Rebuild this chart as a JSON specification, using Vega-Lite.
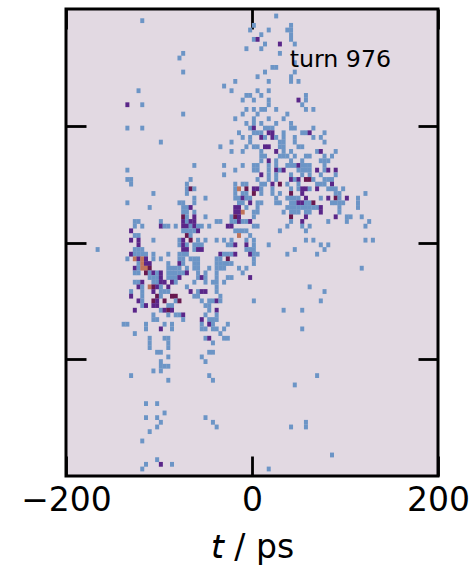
{"$schema":"https://vega.github.io/schema/vega-lite/v6.json","width":372,"height":467,"autosize":{"type":"none"},"padding":{"left":66,"top":9,"right":36,"bottom":89},"background":"white","config":{"font":"DejaVu Sans","view":{"fill":"#e2d9e2","stroke":"black","strokeWidth":3}},"resolve":{"axis":{"x":"independent","y":"independent"}},"layer":[{"data":{"values":[
{"t":26,"y":98.5,"n":1},
{"t":-118,"y":97.5,"n":1},
{"t":2,"y":96.5,"n":1},{"t":42,"y":96.5,"n":1},
{"t":-2,"y":95.5,"n":1},{"t":18,"y":95.5,"n":1},{"t":38,"y":95.5,"n":1},{"t":42,"y":95.5,"n":1},
{"t":10,"y":94.5,"n":1},{"t":42,"y":94.5,"n":1},
{"t":2,"y":93.5,"n":1},{"t":6,"y":93.5,"n":2},{"t":42,"y":93.5,"n":1},
{"t":14,"y":92.5,"n":1},{"t":30,"y":92.5,"n":2},{"t":46,"y":92.5,"n":1},
{"t":-6,"y":91.5,"n":1},{"t":10,"y":91.5,"n":1},
{"t":-74,"y":90.5,"n":1},{"t":30,"y":90.5,"n":1},
{"t":-78,"y":89.5,"n":1},
{"t":46,"y":88.5,"n":1},
{"t":22,"y":87.5,"n":1},{"t":26,"y":87.5,"n":1},
{"t":-74,"y":86.5,"n":1},{"t":14,"y":86.5,"n":1},{"t":46,"y":86.5,"n":1},
{"t":6,"y":85.5,"n":1},{"t":42,"y":85.5,"n":1},
{"t":-18,"y":84.5,"n":1},{"t":18,"y":84.5,"n":1},{"t":42,"y":84.5,"n":1},{"t":50,"y":84.5,"n":1},
{"t":-30,"y":83.5,"n":1},
{"t":-122,"y":82.5,"n":1},{"t":-22,"y":82.5,"n":1},{"t":6,"y":82.5,"n":1},{"t":18,"y":82.5,"n":1},
{"t":-6,"y":81.5,"n":1},{"t":-2,"y":81.5,"n":1},{"t":10,"y":81.5,"n":1},{"t":58,"y":81.5,"n":1},
{"t":-10,"y":80.5,"n":1},{"t":2,"y":80.5,"n":1},{"t":18,"y":80.5,"n":1},{"t":50,"y":80.5,"n":2},{"t":58,"y":80.5,"n":1},
{"t":-134,"y":79.5,"n":2},{"t":-118,"y":79.5,"n":1},{"t":18,"y":79.5,"n":1},{"t":54,"y":79.5,"n":1},
{"t":-6,"y":78.5,"n":1},{"t":2,"y":78.5,"n":1},{"t":10,"y":78.5,"n":1},{"t":14,"y":78.5,"n":1},{"t":26,"y":78.5,"n":1},{"t":58,"y":78.5,"n":1},{"t":66,"y":78.5,"n":1},
{"t":-74,"y":77.5,"n":1},{"t":-10,"y":77.5,"n":1},{"t":6,"y":77.5,"n":1},{"t":38,"y":77.5,"n":1},
{"t":-18,"y":76.5,"n":1},{"t":2,"y":76.5,"n":1},{"t":18,"y":76.5,"n":1},{"t":34,"y":76.5,"n":1},
{"t":-6,"y":75.5,"n":1},{"t":2,"y":75.5,"n":1},{"t":10,"y":75.5,"n":1},{"t":26,"y":75.5,"n":1},{"t":42,"y":75.5,"n":1},
{"t":-134,"y":74.5,"n":1},{"t":-118,"y":74.5,"n":1},{"t":-2,"y":74.5,"n":1},{"t":2,"y":74.5,"n":2},{"t":14,"y":74.5,"n":1},{"t":18,"y":74.5,"n":1},{"t":22,"y":74.5,"n":1},{"t":42,"y":74.5,"n":1},{"t":46,"y":74.5,"n":1},{"t":66,"y":74.5,"n":1},
{"t":-14,"y":73.5,"n":1},{"t":2,"y":73.5,"n":1},{"t":6,"y":73.5,"n":1},{"t":10,"y":73.5,"n":1},{"t":18,"y":73.5,"n":2},{"t":22,"y":73.5,"n":2},{"t":34,"y":73.5,"n":1},{"t":54,"y":73.5,"n":1},{"t":58,"y":73.5,"n":1},{"t":62,"y":73.5,"n":2},{"t":78,"y":73.5,"n":1},
{"t":-10,"y":72.5,"n":1},{"t":-2,"y":72.5,"n":1},{"t":10,"y":72.5,"n":2},{"t":14,"y":72.5,"n":1},{"t":22,"y":72.5,"n":2},{"t":26,"y":72.5,"n":1},{"t":34,"y":72.5,"n":1},{"t":46,"y":72.5,"n":1},{"t":66,"y":72.5,"n":1},{"t":74,"y":72.5,"n":1},
{"t":-98,"y":71.5,"n":1},{"t":-22,"y":71.5,"n":1},{"t":-2,"y":71.5,"n":1},{"t":30,"y":71.5,"n":1},{"t":34,"y":71.5,"n":1},{"t":46,"y":71.5,"n":1},{"t":78,"y":71.5,"n":1},
{"t":-34,"y":70.5,"n":1},{"t":-6,"y":70.5,"n":1},{"t":2,"y":70.5,"n":1},{"t":6,"y":70.5,"n":1},{"t":14,"y":70.5,"n":2},{"t":18,"y":70.5,"n":2},{"t":30,"y":70.5,"n":1},{"t":34,"y":70.5,"n":1},{"t":50,"y":70.5,"n":1},{"t":54,"y":70.5,"n":1},
{"t":-22,"y":69.5,"n":1},{"t":-10,"y":69.5,"n":1},{"t":10,"y":69.5,"n":1},{"t":26,"y":69.5,"n":2},{"t":34,"y":69.5,"n":1},{"t":42,"y":69.5,"n":1},{"t":70,"y":69.5,"n":1},{"t":74,"y":69.5,"n":2},{"t":90,"y":69.5,"n":1},
{"t":10,"y":68.5,"n":1},{"t":14,"y":68.5,"n":1},{"t":30,"y":68.5,"n":1},{"t":34,"y":68.5,"n":1},{"t":38,"y":68.5,"n":1},{"t":46,"y":68.5,"n":1},{"t":58,"y":68.5,"n":1},{"t":62,"y":68.5,"n":1},{"t":78,"y":68.5,"n":1},{"t":86,"y":68.5,"n":1},
{"t":10,"y":67.5,"n":1},{"t":18,"y":67.5,"n":2},{"t":26,"y":67.5,"n":1},{"t":42,"y":67.5,"n":1},{"t":54,"y":67.5,"n":1},{"t":74,"y":67.5,"n":1},{"t":78,"y":67.5,"n":1},{"t":82,"y":67.5,"n":1},
{"t":-62,"y":66.5,"n":1},{"t":-30,"y":66.5,"n":1},{"t":-10,"y":66.5,"n":1},{"t":2,"y":66.5,"n":1},{"t":6,"y":66.5,"n":1},{"t":18,"y":66.5,"n":1},{"t":26,"y":66.5,"n":1},{"t":38,"y":66.5,"n":1},{"t":42,"y":66.5,"n":1},{"t":46,"y":66.5,"n":1},{"t":50,"y":66.5,"n":2},{"t":54,"y":66.5,"n":1},{"t":58,"y":66.5,"n":1},{"t":62,"y":66.5,"n":1},{"t":78,"y":66.5,"n":1},
{"t":-134,"y":65.5,"n":1},{"t":-18,"y":65.5,"n":1},{"t":2,"y":65.5,"n":1},{"t":6,"y":65.5,"n":1},{"t":18,"y":65.5,"n":1},{"t":26,"y":65.5,"n":2},{"t":30,"y":65.5,"n":1},{"t":34,"y":65.5,"n":2},{"t":50,"y":65.5,"n":1},{"t":54,"y":65.5,"n":1},{"t":58,"y":65.5,"n":1},{"t":62,"y":65.5,"n":1},{"t":70,"y":65.5,"n":2},{"t":78,"y":65.5,"n":1},{"t":82,"y":65.5,"n":2},{"t":90,"y":65.5,"n":2},
{"t":-30,"y":64.5,"n":1},{"t":10,"y":64.5,"n":2},{"t":18,"y":64.5,"n":1},{"t":26,"y":64.5,"n":1},{"t":42,"y":64.5,"n":1},{"t":54,"y":64.5,"n":1},{"t":62,"y":64.5,"n":1},{"t":74,"y":64.5,"n":1},{"t":90,"y":64.5,"n":1},
{"t":-134,"y":63.5,"n":1},{"t":-130,"y":63.5,"n":1},{"t":-66,"y":63.5,"n":1},{"t":6,"y":63.5,"n":1},{"t":18,"y":63.5,"n":1},{"t":26,"y":63.5,"n":1},{"t":42,"y":63.5,"n":2},{"t":46,"y":63.5,"n":1},{"t":50,"y":63.5,"n":2},{"t":58,"y":63.5,"n":3},{"t":62,"y":63.5,"n":3},{"t":66,"y":63.5,"n":1},{"t":78,"y":63.5,"n":1},{"t":82,"y":63.5,"n":1},{"t":86,"y":63.5,"n":1},
{"t":-130,"y":62.5,"n":1},{"t":-70,"y":62.5,"n":1},{"t":-18,"y":62.5,"n":1},{"t":-10,"y":62.5,"n":1},{"t":-6,"y":62.5,"n":1},{"t":10,"y":62.5,"n":1},{"t":14,"y":62.5,"n":1},{"t":22,"y":62.5,"n":2},{"t":30,"y":62.5,"n":3},{"t":38,"y":62.5,"n":1},{"t":50,"y":62.5,"n":1},{"t":70,"y":62.5,"n":1},{"t":74,"y":62.5,"n":1},{"t":78,"y":62.5,"n":1},{"t":86,"y":62.5,"n":2},
{"t":-70,"y":61.5,"n":1},{"t":-66,"y":61.5,"n":3},{"t":-62,"y":61.5,"n":1},{"t":-18,"y":61.5,"n":1},{"t":-14,"y":61.5,"n":4},{"t":-6,"y":61.5,"n":3},{"t":2,"y":61.5,"n":2},{"t":6,"y":61.5,"n":2},{"t":10,"y":61.5,"n":1},{"t":22,"y":61.5,"n":1},{"t":42,"y":61.5,"n":1},{"t":50,"y":61.5,"n":1},{"t":54,"y":61.5,"n":2},{"t":58,"y":61.5,"n":2},{"t":62,"y":61.5,"n":1},{"t":70,"y":61.5,"n":2},{"t":82,"y":61.5,"n":1},{"t":86,"y":61.5,"n":1},{"t":90,"y":61.5,"n":1},{"t":98,"y":61.5,"n":1},
{"t":-106,"y":60.5,"n":1},{"t":-70,"y":60.5,"n":1},{"t":-18,"y":60.5,"n":1},{"t":-10,"y":60.5,"n":1},{"t":-6,"y":60.5,"n":1},{"t":2,"y":60.5,"n":3},{"t":10,"y":60.5,"n":1},{"t":22,"y":60.5,"n":1},{"t":30,"y":60.5,"n":1},{"t":42,"y":60.5,"n":3},{"t":54,"y":60.5,"n":2},{"t":90,"y":60.5,"n":1},{"t":94,"y":60.5,"n":1},{"t":122,"y":60.5,"n":1},
{"t":-62,"y":59.5,"n":1},{"t":-50,"y":59.5,"n":1},{"t":-18,"y":59.5,"n":1},{"t":-14,"y":59.5,"n":1},{"t":-10,"y":59.5,"n":2},{"t":-6,"y":59.5,"n":1},{"t":-2,"y":59.5,"n":1},{"t":26,"y":59.5,"n":1},{"t":38,"y":59.5,"n":1},{"t":42,"y":59.5,"n":1},{"t":46,"y":59.5,"n":1},{"t":50,"y":59.5,"n":1},{"t":58,"y":59.5,"n":2},{"t":74,"y":59.5,"n":1},{"t":82,"y":59.5,"n":2},{"t":90,"y":59.5,"n":3},{"t":94,"y":59.5,"n":1},{"t":102,"y":59.5,"n":2},{"t":114,"y":59.5,"n":1},
{"t":-134,"y":58.5,"n":1},{"t":-78,"y":58.5,"n":1},{"t":-74,"y":58.5,"n":1},{"t":-62,"y":58.5,"n":1},{"t":-14,"y":58.5,"n":1},{"t":-10,"y":58.5,"n":1},{"t":-2,"y":58.5,"n":2},{"t":6,"y":58.5,"n":1},{"t":10,"y":58.5,"n":1},{"t":26,"y":58.5,"n":1},{"t":30,"y":58.5,"n":1},{"t":42,"y":58.5,"n":1},{"t":46,"y":58.5,"n":1},{"t":50,"y":58.5,"n":2},{"t":54,"y":58.5,"n":2},{"t":58,"y":58.5,"n":1},{"t":62,"y":58.5,"n":1},{"t":66,"y":58.5,"n":3},{"t":86,"y":58.5,"n":1},{"t":90,"y":58.5,"n":1},{"t":94,"y":58.5,"n":1},{"t":98,"y":58.5,"n":1},{"t":114,"y":58.5,"n":1},
{"t":-110,"y":57.5,"n":1},{"t":-74,"y":57.5,"n":1},{"t":-70,"y":57.5,"n":1},{"t":-66,"y":57.5,"n":2},{"t":-18,"y":57.5,"n":2},{"t":-14,"y":57.5,"n":2},{"t":-6,"y":57.5,"n":1},{"t":6,"y":57.5,"n":1},{"t":38,"y":57.5,"n":1},{"t":42,"y":57.5,"n":1},{"t":46,"y":57.5,"n":1},{"t":50,"y":57.5,"n":1},{"t":54,"y":57.5,"n":1},{"t":58,"y":57.5,"n":1},{"t":62,"y":57.5,"n":1},{"t":66,"y":57.5,"n":1},{"t":70,"y":57.5,"n":1},{"t":74,"y":57.5,"n":2},{"t":94,"y":57.5,"n":1},{"t":114,"y":57.5,"n":1},
{"t":-74,"y":56.5,"n":1},{"t":-70,"y":56.5,"n":1},{"t":-62,"y":56.5,"n":1},{"t":-18,"y":56.5,"n":2},{"t":-14,"y":56.5,"n":2},{"t":-10,"y":56.5,"n":4},{"t":2,"y":56.5,"n":1},{"t":6,"y":56.5,"n":1},{"t":34,"y":56.5,"n":1},{"t":42,"y":56.5,"n":1},{"t":46,"y":56.5,"n":1},{"t":50,"y":56.5,"n":1},{"t":58,"y":56.5,"n":1},{"t":62,"y":56.5,"n":1},{"t":74,"y":56.5,"n":2},{"t":94,"y":56.5,"n":1},
{"t":-74,"y":55.5,"n":3},{"t":-70,"y":55.5,"n":1},{"t":-62,"y":55.5,"n":2},{"t":-50,"y":55.5,"n":1},{"t":-22,"y":55.5,"n":1},{"t":-18,"y":55.5,"n":3},{"t":-14,"y":55.5,"n":2},{"t":2,"y":55.5,"n":1},{"t":42,"y":55.5,"n":3},{"t":58,"y":55.5,"n":2},{"t":90,"y":55.5,"n":2},{"t":102,"y":55.5,"n":1},{"t":106,"y":55.5,"n":1},{"t":118,"y":55.5,"n":1},
{"t":-126,"y":54.5,"n":1},{"t":-122,"y":54.5,"n":1},{"t":-98,"y":54.5,"n":1},{"t":-74,"y":54.5,"n":2},{"t":-70,"y":54.5,"n":1},{"t":-66,"y":54.5,"n":2},{"t":-62,"y":54.5,"n":2},{"t":-38,"y":54.5,"n":1},{"t":-34,"y":54.5,"n":1},{"t":-22,"y":54.5,"n":1},{"t":-18,"y":54.5,"n":1},{"t":-14,"y":54.5,"n":2},{"t":-10,"y":54.5,"n":1},{"t":-6,"y":54.5,"n":1},{"t":-2,"y":54.5,"n":2},{"t":42,"y":54.5,"n":1},{"t":54,"y":54.5,"n":2},{"t":82,"y":54.5,"n":1},{"t":102,"y":54.5,"n":1},{"t":126,"y":54.5,"n":1},
{"t":-126,"y":53.5,"n":1},{"t":-118,"y":53.5,"n":1},{"t":-98,"y":53.5,"n":2},{"t":-94,"y":53.5,"n":1},{"t":-90,"y":53.5,"n":1},{"t":-82,"y":53.5,"n":1},{"t":-74,"y":53.5,"n":2},{"t":-70,"y":53.5,"n":2},{"t":-66,"y":53.5,"n":1},{"t":-62,"y":53.5,"n":2},{"t":-58,"y":53.5,"n":1},{"t":-54,"y":53.5,"n":1},{"t":-46,"y":53.5,"n":1},{"t":-26,"y":53.5,"n":2},{"t":-22,"y":53.5,"n":2},{"t":2,"y":53.5,"n":1},{"t":6,"y":53.5,"n":1},{"t":38,"y":53.5,"n":1},{"t":54,"y":53.5,"n":1},{"t":62,"y":53.5,"n":1},{"t":122,"y":53.5,"n":1},
{"t":-130,"y":52.5,"n":2},{"t":-74,"y":52.5,"n":1},{"t":-70,"y":52.5,"n":1},{"t":-66,"y":52.5,"n":1},{"t":-62,"y":52.5,"n":1},{"t":-58,"y":52.5,"n":2},{"t":-18,"y":52.5,"n":1},{"t":-14,"y":52.5,"n":1},{"t":-10,"y":52.5,"n":1},{"t":-6,"y":52.5,"n":1},{"t":30,"y":52.5,"n":1},{"t":58,"y":52.5,"n":1},
{"t":-126,"y":51.5,"n":1},{"t":-122,"y":51.5,"n":1},{"t":-70,"y":51.5,"n":3},{"t":-66,"y":51.5,"n":1},{"t":-14,"y":51.5,"n":4},{"t":-2,"y":51.5,"n":1},
{"t":-130,"y":50.5,"n":2},{"t":-122,"y":50.5,"n":2},{"t":-106,"y":50.5,"n":1},{"t":-78,"y":50.5,"n":1},{"t":-74,"y":50.5,"n":2},{"t":-66,"y":50.5,"n":3},{"t":-58,"y":50.5,"n":1},{"t":-50,"y":50.5,"n":1},{"t":-38,"y":50.5,"n":1},{"t":-30,"y":50.5,"n":1},{"t":-22,"y":50.5,"n":1},{"t":-6,"y":50.5,"n":1},{"t":2,"y":50.5,"n":1},{"t":58,"y":50.5,"n":1},{"t":66,"y":50.5,"n":1},{"t":122,"y":50.5,"n":1},{"t":130,"y":50.5,"n":1},
{"t":-122,"y":49.5,"n":2},{"t":-78,"y":49.5,"n":1},{"t":-74,"y":49.5,"n":2},{"t":-70,"y":49.5,"n":1},{"t":-62,"y":49.5,"n":1},{"t":-58,"y":49.5,"n":1},{"t":-54,"y":49.5,"n":1},{"t":-26,"y":49.5,"n":1},{"t":-22,"y":49.5,"n":1},{"t":-18,"y":49.5,"n":2},{"t":-6,"y":49.5,"n":2},{"t":2,"y":49.5,"n":1},{"t":18,"y":49.5,"n":1},{"t":74,"y":49.5,"n":1},{"t":82,"y":49.5,"n":1},
{"t":-166,"y":48.5,"n":1},{"t":-126,"y":48.5,"n":1},{"t":-122,"y":48.5,"n":1},{"t":-118,"y":48.5,"n":1},{"t":-74,"y":48.5,"n":2},{"t":-70,"y":48.5,"n":2},{"t":-62,"y":48.5,"n":1},{"t":-58,"y":48.5,"n":2},{"t":-54,"y":48.5,"n":2},{"t":-6,"y":48.5,"n":1},{"t":-2,"y":48.5,"n":1},{"t":2,"y":48.5,"n":1},{"t":46,"y":48.5,"n":1},{"t":78,"y":48.5,"n":1},
{"t":-130,"y":47.5,"n":2},{"t":-126,"y":47.5,"n":1},{"t":-122,"y":47.5,"n":1},{"t":-118,"y":47.5,"n":1},{"t":-114,"y":47.5,"n":1},{"t":-106,"y":47.5,"n":1},{"t":-90,"y":47.5,"n":1},{"t":-78,"y":47.5,"n":1},{"t":-74,"y":47.5,"n":1},{"t":-70,"y":47.5,"n":1},{"t":-34,"y":47.5,"n":2},{"t":-30,"y":47.5,"n":1},{"t":-26,"y":47.5,"n":1},{"t":-22,"y":47.5,"n":1},{"t":-18,"y":47.5,"n":2},{"t":-2,"y":47.5,"n":2},{"t":2,"y":47.5,"n":1},{"t":6,"y":47.5,"n":1},{"t":38,"y":47.5,"n":1},{"t":70,"y":47.5,"n":1},
{"t":-134,"y":46.5,"n":1},{"t":-126,"y":46.5,"n":4},{"t":-122,"y":46.5,"n":2},{"t":-118,"y":46.5,"n":4},{"t":-114,"y":46.5,"n":2},{"t":-106,"y":46.5,"n":1},{"t":-98,"y":46.5,"n":1},{"t":-78,"y":46.5,"n":1},{"t":-74,"y":46.5,"n":1},{"t":-66,"y":46.5,"n":1},{"t":-62,"y":46.5,"n":1},{"t":-58,"y":46.5,"n":1},{"t":-38,"y":46.5,"n":1},{"t":-34,"y":46.5,"n":1},{"t":-26,"y":46.5,"n":3},{"t":2,"y":46.5,"n":1},
{"t":-122,"y":45.5,"n":1},{"t":-118,"y":45.5,"n":4},{"t":-114,"y":45.5,"n":2},{"t":-110,"y":45.5,"n":2},{"t":-90,"y":45.5,"n":1},{"t":-78,"y":45.5,"n":2},{"t":-74,"y":45.5,"n":1},{"t":-62,"y":45.5,"n":1},{"t":-58,"y":45.5,"n":1},{"t":-38,"y":45.5,"n":1},{"t":-34,"y":45.5,"n":1},{"t":-30,"y":45.5,"n":1},{"t":-26,"y":45.5,"n":1},{"t":-22,"y":45.5,"n":1},{"t":2,"y":45.5,"n":1},
{"t":-126,"y":44.5,"n":2},{"t":-122,"y":44.5,"n":1},{"t":-118,"y":44.5,"n":4},{"t":-114,"y":44.5,"n":4},{"t":-110,"y":44.5,"n":3},{"t":-90,"y":44.5,"n":1},{"t":-86,"y":44.5,"n":1},{"t":-82,"y":44.5,"n":1},{"t":-78,"y":44.5,"n":1},{"t":-70,"y":44.5,"n":1},{"t":-62,"y":44.5,"n":1},{"t":-58,"y":44.5,"n":1},{"t":-46,"y":44.5,"n":1},{"t":-38,"y":44.5,"n":1},{"t":-34,"y":44.5,"n":1},{"t":-30,"y":44.5,"n":1},{"t":-14,"y":44.5,"n":1},{"t":-6,"y":44.5,"n":1},{"t":118,"y":44.5,"n":1},
{"t":-126,"y":43.5,"n":1},{"t":-122,"y":43.5,"n":1},{"t":-114,"y":43.5,"n":3},{"t":-110,"y":43.5,"n":1},{"t":-106,"y":43.5,"n":2},{"t":-102,"y":43.5,"n":1},{"t":-98,"y":43.5,"n":2},{"t":-90,"y":43.5,"n":1},{"t":-86,"y":43.5,"n":1},{"t":-82,"y":43.5,"n":1},{"t":-78,"y":43.5,"n":1},{"t":-74,"y":43.5,"n":1},{"t":-70,"y":43.5,"n":2},{"t":-58,"y":43.5,"n":1},{"t":-50,"y":43.5,"n":1},{"t":-38,"y":43.5,"n":1},{"t":-10,"y":43.5,"n":1},
{"t":-110,"y":42.5,"n":1},{"t":-106,"y":42.5,"n":1},{"t":-102,"y":42.5,"n":1},{"t":-98,"y":42.5,"n":2},{"t":-90,"y":42.5,"n":1},{"t":-86,"y":42.5,"n":1},{"t":-82,"y":42.5,"n":1},{"t":-78,"y":42.5,"n":2},{"t":-58,"y":42.5,"n":1},{"t":-54,"y":42.5,"n":2},{"t":-50,"y":42.5,"n":1},{"t":-38,"y":42.5,"n":1},{"t":-26,"y":42.5,"n":1},{"t":-22,"y":42.5,"n":1},{"t":-2,"y":42.5,"n":2},
{"t":-126,"y":41.5,"n":1},{"t":-122,"y":41.5,"n":1},{"t":-118,"y":41.5,"n":2},{"t":-106,"y":41.5,"n":1},{"t":-102,"y":41.5,"n":1},{"t":-98,"y":41.5,"n":2},{"t":-94,"y":41.5,"n":2},{"t":-86,"y":41.5,"n":2},{"t":-82,"y":41.5,"n":1},{"t":-62,"y":41.5,"n":1},{"t":-50,"y":41.5,"n":1},{"t":-42,"y":41.5,"n":1},{"t":-38,"y":41.5,"n":1},{"t":-30,"y":41.5,"n":1},
{"t":-122,"y":40.5,"n":2},{"t":-118,"y":40.5,"n":1},{"t":-110,"y":40.5,"n":4},{"t":-106,"y":40.5,"n":3},{"t":-102,"y":40.5,"n":2},{"t":-98,"y":40.5,"n":1},{"t":-90,"y":40.5,"n":2},{"t":-70,"y":40.5,"n":1},{"t":-38,"y":40.5,"n":1},{"t":62,"y":40.5,"n":1},
{"t":-130,"y":39.5,"n":1},{"t":-118,"y":39.5,"n":1},{"t":-106,"y":39.5,"n":2},{"t":-98,"y":39.5,"n":1},{"t":-94,"y":39.5,"n":1},{"t":-90,"y":39.5,"n":1},{"t":-66,"y":39.5,"n":2},{"t":-58,"y":39.5,"n":1},{"t":-54,"y":39.5,"n":2},{"t":-50,"y":39.5,"n":2},{"t":-38,"y":39.5,"n":1},{"t":78,"y":39.5,"n":1},
{"t":-130,"y":38.5,"n":2},{"t":-118,"y":38.5,"n":1},{"t":-102,"y":38.5,"n":3},{"t":-98,"y":38.5,"n":1},{"t":-86,"y":38.5,"n":3},{"t":-82,"y":38.5,"n":3},{"t":-62,"y":38.5,"n":1},{"t":-58,"y":38.5,"n":1},{"t":-34,"y":38.5,"n":1},
{"t":-122,"y":37.5,"n":2},{"t":-118,"y":37.5,"n":1},{"t":-106,"y":37.5,"n":3},{"t":-102,"y":37.5,"n":2},{"t":-94,"y":37.5,"n":3},{"t":-82,"y":37.5,"n":1},{"t":-78,"y":37.5,"n":3},{"t":-54,"y":37.5,"n":1},{"t":-46,"y":37.5,"n":1},{"t":-42,"y":37.5,"n":1},{"t":-38,"y":37.5,"n":2},{"t":-34,"y":37.5,"n":1},{"t":2,"y":37.5,"n":1},{"t":74,"y":37.5,"n":1},
{"t":-118,"y":36.5,"n":1},{"t":-114,"y":36.5,"n":2},{"t":-106,"y":36.5,"n":2},{"t":-102,"y":36.5,"n":2},{"t":-90,"y":36.5,"n":1},{"t":-86,"y":36.5,"n":1},{"t":-50,"y":36.5,"n":1},{"t":-46,"y":36.5,"n":1},
{"t":-126,"y":35.5,"n":2},{"t":-98,"y":35.5,"n":1},{"t":-94,"y":35.5,"n":2},{"t":-90,"y":35.5,"n":3},{"t":-86,"y":35.5,"n":2},{"t":-46,"y":35.5,"n":1},{"t":-38,"y":35.5,"n":2},{"t":34,"y":35.5,"n":1},{"t":54,"y":35.5,"n":1},
{"t":-106,"y":34.5,"n":1},{"t":-90,"y":34.5,"n":1},{"t":-82,"y":34.5,"n":1},{"t":-78,"y":34.5,"n":1},{"t":-74,"y":34.5,"n":2},{"t":-50,"y":34.5,"n":1},{"t":-38,"y":34.5,"n":1},
{"t":-106,"y":33.5,"n":1},{"t":-102,"y":33.5,"n":1},{"t":-74,"y":33.5,"n":1},{"t":-54,"y":33.5,"n":2},{"t":-46,"y":33.5,"n":1},{"t":-42,"y":33.5,"n":1},{"t":-38,"y":33.5,"n":1},
{"t":-138,"y":32.5,"n":1},{"t":-134,"y":32.5,"n":1},{"t":-114,"y":32.5,"n":1},{"t":-94,"y":32.5,"n":1},{"t":-86,"y":32.5,"n":1},{"t":-54,"y":32.5,"n":1},{"t":-46,"y":32.5,"n":2},{"t":-42,"y":32.5,"n":1},{"t":-26,"y":32.5,"n":1},
{"t":-114,"y":31.5,"n":1},{"t":-98,"y":31.5,"n":2},{"t":-86,"y":31.5,"n":1},{"t":-54,"y":31.5,"n":1},{"t":-50,"y":31.5,"n":1},{"t":-42,"y":31.5,"n":1},{"t":-38,"y":31.5,"n":1},{"t":-30,"y":31.5,"n":1},{"t":54,"y":31.5,"n":1},
{"t":-126,"y":30.5,"n":1},{"t":-34,"y":30.5,"n":1},
{"t":-110,"y":29.5,"n":1},{"t":-94,"y":29.5,"n":1},{"t":-90,"y":29.5,"n":1},{"t":-50,"y":29.5,"n":1},{"t":-46,"y":29.5,"n":2},{"t":-30,"y":29.5,"n":1},{"t":-26,"y":29.5,"n":1},
{"t":-110,"y":28.5,"n":1},{"t":-90,"y":28.5,"n":1},{"t":-42,"y":28.5,"n":1},
{"t":-110,"y":27.5,"n":1},{"t":-90,"y":27.5,"n":1},
{"t":-102,"y":26.5,"n":1},{"t":-98,"y":26.5,"n":1},{"t":-46,"y":26.5,"n":1},{"t":-42,"y":26.5,"n":1},
{"t":-90,"y":25.5,"n":1},{"t":-54,"y":25.5,"n":1},
{"t":-98,"y":24.5,"n":1},{"t":-50,"y":24.5,"n":1},
{"t":-98,"y":23.5,"n":1},{"t":-94,"y":23.5,"n":1},{"t":-90,"y":23.5,"n":1},
{"t":-106,"y":22.5,"n":1},{"t":-98,"y":22.5,"n":1},
{"t":-130,"y":21.5,"n":1},{"t":-46,"y":21.5,"n":1},{"t":70,"y":21.5,"n":1},
{"t":-90,"y":20.5,"n":1},{"t":-42,"y":20.5,"n":1},
{"t":46,"y":19.5,"n":1},
{"t":-114,"y":15.5,"n":1},{"t":-102,"y":15.5,"n":1},
{"t":-94,"y":13.5,"n":1},
{"t":-114,"y":12.5,"n":1},{"t":-102,"y":12.5,"n":1},{"t":-50,"y":12.5,"n":1},
{"t":-98,"y":11.5,"n":1},{"t":-42,"y":11.5,"n":1},{"t":58,"y":11.5,"n":1},
{"t":-102,"y":10.5,"n":1},{"t":-38,"y":10.5,"n":1},{"t":42,"y":10.5,"n":1},{"t":58,"y":10.5,"n":1},
{"t":-110,"y":9.5,"n":1},
{"t":-118,"y":7.5,"n":1},
{"t":86,"y":4.5,"n":1},
{"t":-102,"y":3.5,"n":1},
{"t":-114,"y":2.5,"n":1},{"t":-98,"y":2.5,"n":2},{"t":-86,"y":2.5,"n":1},
{"t":-118,"y":1.5,"n":1},{"t":18,"y":1.5,"n":1}
]},"mark":{"type":"rect","width":4,"height":4.8},"encoding":{"x":{"field":"t","type":"quantitative","scale":{"domain":[-200,200],"nice":false,"zero":false},"axis":{"orient":"bottom","values":[-200,0,200],"grid":false,"domain":false,"tickSize":-20,"tickWidth":2.8,"tickColor":"black","labelFontSize":33,"labelColor":"black","labelPadding":28,"labelFont":"DejaVu Sans","title":"𝘵 / ps","titleFontSize":33,"titleFontWeight":"normal","titleColor":"black","titleFont":"DejaVu Sans","titlePadding":14,"labelFlush":false,"labelOverlap":false}},"y":{"field":"y","type":"quantitative","scale":{"domain":[0,100],"nice":false,"zero":false},"axis":{"orient":"left","values":[25,50,75],"grid":false,"domain":false,"labels":false,"title":null,"tickSize":-20,"tickWidth":2.8,"tickColor":"black"}},"color":{"field":"n","type":"ordinal","scale":{"domain":[1,2,3,4],"range":["#6c95c6","#5a2689","#68184f","#c0745a"]},"legend":null}}},{"data":{"values":[{"t":40.5,"y":89,"label":"turn 976"}]},"mark":{"type":"text","align":"left","baseline":"middle","fontSize":23.7,"font":"DejaVu Sans","color":"black"},"encoding":{"text":{"field":"label"},"x":{"field":"t","type":"quantitative","scale":{"domain":[-200,200],"nice":false,"zero":false},"axis":{"orient":"top","values":[-200,0,200],"grid":false,"domain":false,"labels":false,"title":null,"tickSize":-20,"tickWidth":2.8,"tickColor":"black"}},"y":{"field":"y","type":"quantitative","scale":{"domain":[0,100],"nice":false,"zero":false},"axis":{"orient":"right","values":[25,50,75],"grid":false,"domain":false,"labels":false,"title":null,"tickSize":-20,"tickWidth":2.8,"tickColor":"black"}}}}]}
